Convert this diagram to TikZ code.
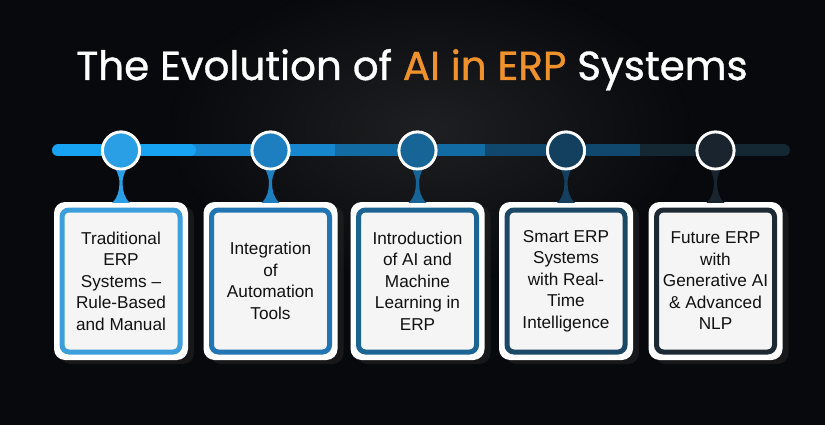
\documentclass[tikz,border=0pt]{standalone}
\usepackage{fontspec}
\setmainfont{Liberation Sans}
\newfontfamily\titlefont[FakeBold=0.9]{Poppins}
\usetikzlibrary{calc,shadows}
\definecolor{bgc}{HTML}{08090C}
\definecolor{orng}{HTML}{F0922B}
\definecolor{cA}{HTML}{2A9FE6}
\definecolor{cB}{HTML}{1D7FC0}
\definecolor{cC}{HTML}{176596}
\definecolor{cD}{HTML}{13405F}
\definecolor{cE}{HTML}{19242F}
\definecolor{bA}{HTML}{3C9FDC}
\definecolor{bB}{HTML}{2275B3}
\definecolor{bC}{HTML}{1C6592}
\definecolor{bD}{HTML}{1B4866}
\definecolor{bE}{HTML}{1D2933}
\definecolor{sA}{HTML}{17A3F2}
\definecolor{sB}{HTML}{1687CF}
\definecolor{sC}{HTML}{136BA4}
\definecolor{sD}{HTML}{10476D}
\definecolor{sE}{HTML}{142834}
\definecolor{txt}{HTML}{111111}
\definecolor{inner}{HTML}{F5F5F5}
\begin{document}
\begin{tikzpicture}[x=1pt,y=-1pt,
  dot/.style={circle,draw=white,line width=2.8pt,minimum size=37pt,inner sep=0pt},
  outerbox/.style={rectangle,rounded corners=11pt,fill=white,minimum width=134pt,minimum height=158pt,inner sep=0pt},
  shadowbox/.style={rectangle,rounded corners=11pt,fill=black!70!gray,opacity=0.55,minimum width=134pt,minimum height=158pt,inner sep=0pt},
  innerbox/.style={rectangle,rounded corners=7pt,fill=inner,line width=5pt,minimum width=118pt,minimum height=142pt,inner sep=0pt,
    text=txt,align=center,font=\fontsize{17.2}{21.5}\selectfont},
  bar/.style={line width=12pt}
]
\useasboundingbox (0,0) rectangle (825,425);
\fill[bgc] (0,0) rectangle (825,425);
\begin{scope}
\clip (0,0) rectangle (825,425);
\fill[inner color=white!9!bgc,outer color=bgc] (430,130) ellipse (260pt and 150pt);
\end{scope}

% title
\node[font=\titlefont\fontsize{40.5}{46}\selectfont,text=white,anchor=base] (title) at (412,80)
  {The Evolution of \textcolor{orng}{AI in ERP} Systems};

% timeline bar
\coordinate (bs) at (58,150.5);
\coordinate (b1e) at (190,150.5);
\coordinate (b2e) at (335,150.5);
\coordinate (b3e) at (485,150.5);
\coordinate (b4e) at (640,150.5);
\coordinate (be) at (784,150.5);
\draw[bar,sE,line cap=round] (b4e) -- (be);
\draw[bar,sD] (b3e) -- (b4e);
\draw[bar,sC] (b2e) -- (b3e);
\draw[bar,sB] (b1e) -- (b2e);
\draw[bar,sA,line cap=round] (bs) -- (b1e);

% boxes and circles
\foreach \i/\cx/\cc/\bc/\t in {
  1/121/cA/bA/{Traditional\\ERP\\Systems --\\Rule-Based\\and Manual},
  2/270.5/cB/bB/{Integration\\of\\Automation\\Tools},
  3/417.5/cC/bC/{Introduction\\of AI and\\Machine\\Learning in\\ERP},
  4/566/cD/bD/{Smart ERP\\Systems\\with Real-\\Time\\Intelligence},
  5/715.5/cE/bE/{Future ERP\\with\\Generative AI\\\& Advanced\\NLP}} {
  \node[shadowbox] (sh\i) at (\cx+6,285) {};
  \node[outerbox] (box\i) at (\cx,281) {};
  \node[innerbox,draw=\bc] (in\i) at (box\i.center) {\t};
  \node[dot,fill=\cc] (c\i) at (\cx,150.5) {};
  \fill[\cc] ($(c\i.south)+(-6,-3)$)
     .. controls ($(c\i.south)+(-2,6)$) and ($(c\i.south)+(-1.6,8)$) .. ($(c\i.south)+(-1.6,13)$)
     .. controls ($(box\i.north)+(-1.6,-12)$) and ($(box\i.north)+(-3,-4)$) .. ($(box\i.north)+(-9,1)$)
     -- ($(box\i.north)+(9,1)$)
     .. controls ($(box\i.north)+(3,-4)$) and ($(box\i.north)+(1.6,-12)$) .. ($(c\i.south)+(1.6,13)$)
     .. controls ($(c\i.south)+(1.6,8)$) and ($(c\i.south)+(2,6)$) .. ($(c\i.south)+(6,-3)$) -- cycle;
  \node[dot,fill=\cc] at (c\i) {};
}
\end{tikzpicture}
\end{document}
